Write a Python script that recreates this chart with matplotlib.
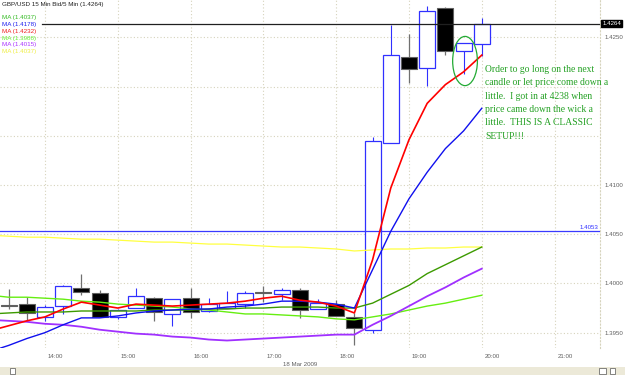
import matplotlib
matplotlib.use("Agg")
import matplotlib.pyplot as plt
import matplotlib.transforms as mtrans
from matplotlib.patches import Ellipse, Rectangle

# 15 min candles, GBP/USD 18 Mar 2009
times = ["13:30", "13:45", "14:00", "14:15", "14:30", "14:45", "15:00", "15:15", "15:30",
         "15:45", "16:00", "16:15", "16:30", "16:45", "17:00", "17:15", "17:30", "17:45",
         "18:00", "18:15", "18:30", "18:45", "19:00", "19:15", "19:30", "19:45", "20:00"]
opens = [1.3978, 1.3979, 1.3966, 1.3977, 1.3995, 1.3990, 1.3966, 1.3975, 1.3985,
         1.3969, 1.3985, 1.3972, 1.3975, 1.3979, 1.3991, 1.3989, 1.3993, 1.3974,
         1.3979, 1.3966, 1.3953, 1.4143, 1.4230, 1.4219, 1.4280, 1.4236, 1.4243]
highs = [1.3994, 1.3986, 1.3978, 1.3998, 1.4010, 1.3993, 1.3974, 1.3995, 1.3986,
         1.3984, 1.3995, 1.3985, 1.3992, 1.3992, 1.3997, 1.3995, 1.3995, 1.3984,
         1.3983, 1.3970, 1.4149, 1.4263, 1.4253, 1.4282, 1.4281, 1.4244, 1.4270]
lows = [1.3974, 1.3962, 1.3962, 1.3969, 1.3988, 1.3966, 1.3964, 1.3975, 1.3962,
        1.3957, 1.3965, 1.3971, 1.3975, 1.3975, 1.3981, 1.3983, 1.3965, 1.3974,
        1.3967, 1.3937, 1.3950, 1.4143, 1.4204, 1.4201, 1.4232, 1.4213, 1.4231]
closes = [1.3977, 1.3970, 1.3976, 1.3997, 1.3991, 1.3966, 1.3973, 1.3987, 1.3971,
          1.3984, 1.3971, 1.3979, 1.3980, 1.3990, 1.3990, 1.3993, 1.3973, 1.3980,
          1.3967, 1.3955, 1.4145, 1.4232, 1.4218, 1.4277, 1.4236, 1.4244, 1.4264]

# moving averages (one extra point before the first candle, off the left edge)
ma_times = ["13:15"] + times
ma_red = [1.3952, 1.3957, 1.3962, 1.3966, 1.3974, 1.3981, 1.3978, 1.3975, 1.3979, 1.3978,
          1.3977, 1.3978, 1.3979, 1.3980, 1.3982, 1.3985, 1.3987, 1.3983, 1.3981, 1.3977,
          1.3970, 1.4024, 1.4097, 1.4146, 1.4183, 1.4202, 1.4215, 1.4232]
ma_blue = [1.3931, 1.3937, 1.3944, 1.3950, 1.3958, 1.3965, 1.3965, 1.3967, 1.3970, 1.3972,
           1.3973, 1.3974, 1.3974, 1.3976, 1.3977, 1.3979, 1.3982, 1.3982, 1.3981, 1.3979,
           1.3975, 1.4014, 1.4053, 1.4086, 1.4113, 1.4137, 1.4155, 1.4178]
ma_dkgreen = [1.3969, 1.3970, 1.3971, 1.3971, 1.3971, 1.3972, 1.3972, 1.3972, 1.3972, 1.3973,
              1.3973, 1.3973, 1.3974, 1.3974, 1.3975, 1.3975, 1.3976, 1.3976, 1.3976, 1.3975,
              1.3975, 1.3980, 1.3989, 1.3998, 1.4010, 1.4019, 1.4028, 1.4037]
ma_lime = [1.3988, 1.3986, 1.3986, 1.3985, 1.3984, 1.3982, 1.3981, 1.3979, 1.3978, 1.3977,
           1.3976, 1.3974, 1.3973, 1.3971, 1.3969, 1.3969, 1.3968, 1.3967, 1.3966, 1.3964,
           1.3963, 1.3966, 1.3969, 1.3973, 1.3977, 1.3980, 1.3984, 1.3988]
ma_purple = [1.3963, 1.3962, 1.3961, 1.3959, 1.3958, 1.3956, 1.3953, 1.3951, 1.3949, 1.3948,
             1.3946, 1.3945, 1.3943, 1.3942, 1.3943, 1.3944, 1.3945, 1.3946, 1.3947, 1.3948,
             1.3948, 1.3958, 1.3967, 1.3977, 1.3987, 1.3996, 1.4006, 1.4015]
ma_yellow = [1.4049, 1.4048, 1.4047, 1.4047, 1.4046, 1.4045, 1.4045, 1.4044, 1.4043, 1.4042,
             1.4042, 1.4041, 1.4040, 1.4040, 1.4039, 1.4038, 1.4037, 1.4037, 1.4036, 1.4035,
             1.4033, 1.4034, 1.4035, 1.4035, 1.4036, 1.4036, 1.4037, 1.4037]

last_price = 1.4264
level_line = 1.4053
hour_labels = ["14:00", "15:00", "16:00", "17:00", "18:00", "19:00", "20:00", "21:00"]
price_ticks = [1.3950, 1.4000, 1.4050, 1.4100, 1.4150, 1.4200, 1.4250]
price_labels = ["1.3950", "1.4000", "1.4050", "1.4100", "", "", "1.4250"]


def to_hours(t):
    h, m = t.split(":")
    return int(h) + int(m) / 60.0


x = [to_hours(t) for t in times]
xm = [to_hours(t) for t in ma_times]

fig = plt.figure(figsize=(6.25, 3.75), dpi=100)
ax = fig.add_axes([0, 27 / 375, 600 / 625, 348 / 375])
ax.set_xlim(13.382, 21.624)
ax.set_ylim(1.39344, 1.42880)

grid_c = "#d6d3bc"
for p in price_ticks:
    ax.axhline(p, color=grid_c, lw=0.8, ls=(0, (1, 2)), zorder=0)
for h in hour_labels:
    ax.axvline(to_hours(h), color=grid_c, lw=0.8, ls=(0, (1, 2)), zorder=0)

# candles
w = 0.22
for xi, o, hi, lo, c in zip(x, opens, highs, lows, closes):
    if c >= o:
        ax.vlines(xi, lo, hi, color="#3030ff", lw=0.8, zorder=2)
        ax.bar(xi, c - o, w, bottom=o, facecolor="white", edgecolor="#3030ff", lw=0.9, zorder=3)
    else:
        ax.vlines(xi, lo, hi, color="#707070", lw=0.9, zorder=2)
        ax.bar(xi, max(o - c, 0.00012), w, bottom=c, facecolor="black", edgecolor="#606060", lw=0.8, zorder=3)

ax.axhline(level_line, color="#3a3aff", lw=0.9, zorder=4)
ax.axhline(last_price, xmin=42 / 600, color="#202020", lw=0.9, zorder=4)

ax.plot(xm, ma_yellow, color="#ffff40", lw=0.9, zorder=5)
ax.plot(xm, ma_lime, color="#66ee11", lw=1.0, zorder=5)
ax.plot(xm, ma_dkgreen, color="#3c9a00", lw=1.0, zorder=5)
ax.plot(xm, ma_purple, color="#a030ff", lw=1.3, zorder=5)
ax.plot(xm, ma_blue, color="#1010ee", lw=1.0, zorder=6)
ax.plot(xm, ma_red, color="#ff0000", lw=1.2, zorder=7)

# axes styling
for s in ["top", "left", "bottom"]:
    ax.spines[s].set_visible(False)
ax.spines["right"].set_color(grid_c)
ax.spines["right"].set_linestyle((0, (1, 2)))
ax.yaxis.tick_right()
ax.set_yticks(price_ticks)
ax.set_yticklabels(price_labels)
ax.tick_params(axis="y", length=0, pad=3, labelsize=4.4, labelcolor="#606060")
ax.set_xticks([to_hours(h) for h in hour_labels])
ax.set_xticklabels(hour_labels)
ax.tick_params(axis="x", length=0, pad=4, labelsize=4.4, labelcolor="#606060")
off = mtrans.ScaledTranslation(3 / 100, 0, fig.dpi_scale_trans)
for lab in ax.get_xticklabels():
    lab.set_ha("left")
    lab.set_transform(lab.get_transform() + off)
    lab.set_family("Liberation Sans")
for lab in ax.get_yticklabels():
    lab.set_family("Liberation Sans")

# legend text block
ax.text(0.004, 0.995, "GBP/USD 15 Min Bid/5 Min (1.4264)", transform=ax.transAxes,
        fontsize=4.5, family="Liberation Sans", color="#202020", va="top")
legend = [("MA (1.4037)", "#33bb22"), ("MA (1.4178)", "#2020ee"), ("MA (1.4232)", "#ee2020"),
          ("MA (1.3988)", "#66ee33"), ("MA (1.4015)", "#aa33ff"), ("MA (1.4037)", "#eeee44")]
for i, (txt, col) in enumerate(legend):
    ax.text(0.004, 0.975 - (i + 1) * 0.0193, txt, transform=ax.transAxes,
            fontsize=4.5, family="Liberation Sans", color=col, va="top")

# price flags
ax.text(1.004, last_price, "1.4264", transform=ax.get_yaxis_transform(), fontsize=4.4,
        family="Liberation Sans", color="white", va="center", ha="left", clip_on=False,
        bbox=dict(facecolor="black", edgecolor="black", pad=0.8), zorder=10)
ax.text(0.997, level_line + 0.00012, "1.4053", transform=ax.get_yaxis_transform(), fontsize=4.4,
        family="Liberation Sans", color="#3030ff", va="bottom", ha="right")

# trader note
ax.add_patch(Ellipse((19.77, 1.4226), 0.34, 0.0050, fill=False, edgecolor="#22aa33", lw=0.9, zorder=8))
note = ("Order to go long on the next\ncandle or let price come down a\nlittle.  I got in at 4238 when\n"
        "price came down the wick a\nlittle.  THIS IS A CLASSIC\nSETUP!!!")
ax.text(485 / 600, 1 - 65 / 348, note, transform=ax.transAxes, fontsize=6.9,
        family="Liberation Serif", color="#22a022", va="top", ha="left",
        linespacing=1.62, clip_on=False, zorder=9)

fig.text(300 / 625, 1 - 364 / 375, "18 Mar 2009", fontsize=4.4, family="Liberation Sans",
         color="#606060", ha="center", va="center")

# scroll bar strip at the bottom
fig.patches.append(Rectangle((0, 0), 1, 8 / 375, transform=fig.transFigure,
                             facecolor="#ece9d8", edgecolor="none"))
fig.patches.append(Rectangle((10 / 625, 1 / 375), 5 / 625, 6 / 375, transform=fig.transFigure,
                             facecolor="white", edgecolor="#555555", lw=0.5))
fig.patches.append(Rectangle((599 / 625, 1 / 375), 7 / 625, 6 / 375, transform=fig.transFigure,
                             facecolor="white", edgecolor="#555555", lw=0.5))
fig.patches.append(Rectangle((610 / 625, 1 / 375), 5 / 625, 6 / 375, transform=fig.transFigure,
                             facecolor="white", edgecolor="#555555", lw=0.5))

fig.savefig("out.png", dpi=100)
